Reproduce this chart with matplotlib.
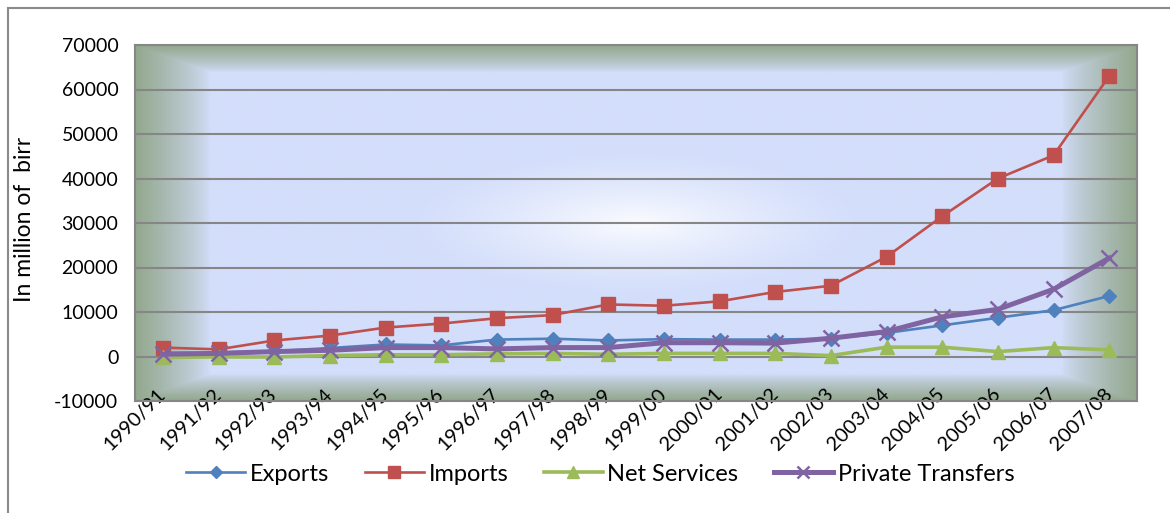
import numpy as np
import matplotlib
matplotlib.use("Agg")
import matplotlib.pyplot as plt
from matplotlib.patches import Rectangle
from matplotlib.colors import to_rgb

plt.rcParams['font.family'] = ['Lato', 'DejaVu Sans']

years = ['1990/91', '1991/92', '1992/93', '1993/94', '1994/95', '1995/96',
         '1996/97', '1997/98', '1998/99', '1999/00', '2000/01', '2001/02',
         '2002/03', '2003/04', '2004/05', '2005/06', '2006/07', '2007/08']
exports = [800, 900, 1200, 1900, 2700, 2500, 3800, 4000, 3600, 3900,
           3800, 3800, 4000, 5300, 7000, 8700, 10400, 13600]
imports = [2000, 1600, 3600, 4700, 6500, 7400, 8600, 9300, 11700, 11400,
           12400, 14500, 15900, 22400, 31500, 40000, 45200, 63000]
net_services = [-200, -100, -100, 200, 400, 400, 600, 700, 500, 700,
                700, 700, 200, 2100, 2100, 1100, 2000, 1500]
private_transfers = [500, 700, 1100, 1400, 2000, 2000, 1700, 2000, 2000, 3100,
                     3100, 3000, 4100, 5600, 8900, 10600, 15100, 22100]
y_ticks = [-10000, 0, 10000, 20000, 30000, 40000, 50000, 60000, 70000]

W, H = 1170, 513
fig = plt.figure(figsize=(W / 100, H / 100), dpi=100)
fig.patch.set_facecolor('white')

# outer chart frame (runs past the right and bottom edges)
fig.patches.append(Rectangle((8 / W, -0.1), 1.2, 1 - 8 / H + 0.1,
                             transform=fig.transFigure, fill=False,
                             edgecolor='#8a8a8a', linewidth=1.5, zorder=0))

left, right, top, bottom = 135, 1137, 45, 401
ax = fig.add_axes([left / W, 1 - bottom / H, (right - left) / W, (bottom - top) / H])

# plot-area fill: white glow in the centre, blue body, grey-green rim
nx, ny = 600, 300
u = np.linspace(-1, 1, nx)[None, :]
v = np.linspace(-1, 1, ny)[:, None]
t = np.maximum(np.abs(u), np.abs(v))
s = np.sqrt((u / 0.85) ** 2 + (v / 0.75) ** 2)
white = np.array(to_rgb('#fafbff'))
blue = np.array(to_rgb('#d3defb'))
green = np.array(to_rgb('#93a88e'))
w_glow = np.clip(1 - s / 0.55, 0, 1)[..., None] ** 1.3
w_edge = np.clip((t - 0.85) / 0.15, 0, 1)[..., None] ** 0.8
img = blue * (1 - w_glow) + white * w_glow
img = img * (1 - w_edge) + green * w_edge
ax.imshow(img, extent=[0, 1, 0, 1], transform=ax.transAxes,
          aspect='auto', zorder=0, interpolation='bilinear')

x = np.arange(len(years))
ax.set_xlim(-0.5, len(years) - 0.5)
ax.set_ylim(-10000, 70000)

for yv in y_ticks[1:-1]:
    ax.axhline(yv, color='#868686', linewidth=1.5, zorder=1)

ax.plot(x, exports, color='#4f81bd', linewidth=1.9, marker='D', markersize=7.5,
        label='Exports', zorder=3)
ax.plot(x, imports, color='#c0504d', linewidth=1.9, marker='s', markersize=10,
        label='Imports', zorder=3)
ax.plot(x, net_services, color='#9bbb59', linewidth=2.6, marker='^', markersize=10,
        label='Net Services', zorder=3)
ax.plot(x, private_transfers, color='#8064a2', linewidth=3.6, marker='x',
        markersize=11, markeredgewidth=1.8, label='Private Transfers', zorder=4)

for sp in ax.spines.values():
    sp.set_color('#868686')
    sp.set_linewidth(1.5)

ax.set_yticks(y_ticks)
ax.set_yticklabels([str(v) for v in y_ticks], fontsize=14)
ax.tick_params(axis='y', length=0, pad=12)
ax.set_xticks(x)
ax.set_xticklabels(years, fontsize=14.5, rotation=45, ha='right', va='center',
                   rotation_mode='anchor')
ax.tick_params(axis='x', length=0, pad=-7)
for lbl in ax.get_xticklabels():
    lbl.set_zorder(5)

ax.set_ylabel('In million of  birr', fontsize=16.5)
ax.yaxis.set_label_coords(-0.1, 0.51)

fig.legend(*ax.get_legend_handles_labels(), loc='center', ncol=4,
           bbox_to_anchor=(0.513, 0.076), frameon=False, fontsize=17,
           handlelength=2.5, handletextpad=0.2, columnspacing=1.5,
           markerscale=0.85)

fig.savefig('out.png', dpi=100)
